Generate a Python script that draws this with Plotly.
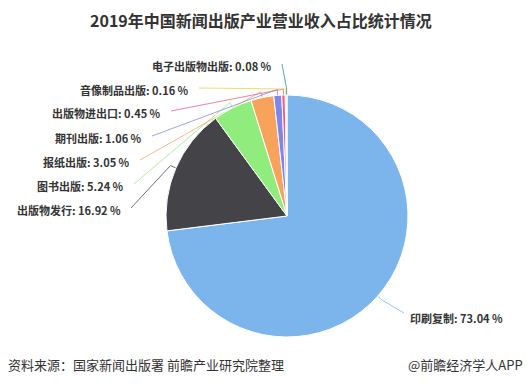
import math
import plotly.graph_objects as go

# ---- data ----
categories = ["印刷复制", "出版物发行", "图书出版", "报纸出版", "期刊出版",
              "出版物进出口", "音像制品出版", "电子出版物出版"]
shares = [73.04, 16.92, 5.24, 3.05, 1.06, 0.45, 0.16, 0.08]
colors = ["#7cb5ec", "#434348", "#90ed7d", "#f7a35c", "#8085e9",
          "#f15c80", "#e4d354", "#2b908f"]
title = "2019年中国新闻出版产业营业收入占比统计情况"
source_text = "资料来源：国家新闻出版署 前瞻产业研究院整理"
brand_text = "@前瞻经济学人APP"

# ---- layout (pixels) ----
W, H = 529, 384
CX, CY, R = 287, 216, 121
# label anchor (x edge, y centre) for each slice, layout only
label_x = [408, 123, 126, 132, 144, 163, 191, 274]
label_y = [318, 210, 186, 162, 138, 113, 90, 66]
label_side = ["left", "right", "right", "right", "right", "right", "right", "right"]

fig = go.Figure()

fig.add_trace(go.Pie(
    labels=categories, values=shares, sort=False, direction="clockwise",
    rotation=0, textinfo="none", hoverinfo="skip",
    marker=dict(colors=colors, line=dict(color="white", width=1)),
    domain=dict(x=[(CX - R) / W, (CX + R) / W],
                y=[1 - (CY + R) / H, 1 - (CY - R) / H]),
    showlegend=False,
))

total = sum(shares)
cum = 0.0
annotations = []
for i, (cat, v) in enumerate(zip(categories, shares)):
    theta = math.radians(360 * (cum + v / 2) / total)
    cum += v
    ex, ey = CX + R * math.sin(theta), CY - R * math.cos(theta)
    bx, by = CX + (R + 6) * math.sin(theta), CY - (R + 6) * math.cos(theta)
    if label_side[i] == "right":
        sx, sy = label_x[i] + 8, label_y[i] - 2
    else:
        sx, sy = label_x[i] - 4, label_y[i] - 5
    fig.add_trace(go.Scatter(
        x=[sx, bx, ex], y=[sy, by, ey], mode="lines",
        line=dict(color=colors[i], width=0.9), opacity=0.85,
        hoverinfo="skip", showlegend=False,
    ))
    annotations.append(dict(
        x=label_x[i], y=label_y[i], xref="x", yref="y",
        xanchor=label_side[i] if label_side[i] == "left" else "right",
        yanchor="middle", showarrow=False,
        text=f"<b>{cat}: {v:.2f} %</b>",
        font=dict(family="Noto Sans CJK SC, sans-serif", size=11, color="#333333"),
    ))

annotations.append(dict(
    x=261 / W, y=1 - 20 / H, xref="paper", yref="paper", xanchor="center", yanchor="middle",
    showarrow=False, text=f"<b>{title}</b>",
    font=dict(family="Noto Sans CJK SC, sans-serif", size=16, color="#333333"),
))
annotations.append(dict(
    x=6 / W, y=1 - 364 / H, xref="paper", yref="paper", xanchor="left", yanchor="middle",
    showarrow=False, text=source_text,
    font=dict(family="Noto Sans CJK SC, sans-serif", size=13, color="#333333"),
))
annotations.append(dict(
    x=525 / W, y=1 - 364 / H, xref="paper", yref="paper", xanchor="right", yanchor="middle",
    showarrow=False, text=brand_text,
    font=dict(family="Noto Sans CJK SC, sans-serif", size=13, color="#333333"),
))

fig.update_layout(
    width=W, height=H, margin=dict(l=0, r=0, t=0, b=0),
    paper_bgcolor="white", plot_bgcolor="rgba(0,0,0,0)",
    xaxis=dict(range=[0, W], visible=False, fixedrange=True),
    yaxis=dict(range=[H, 0], visible=False, fixedrange=True),
    annotations=annotations, hovermode=False,
)

fig.write_html(
    "out.html",
    config={"displayModeBar": False},
    post_script="document.body.style.margin='0';document.body.style.overflow='hidden';",
)
